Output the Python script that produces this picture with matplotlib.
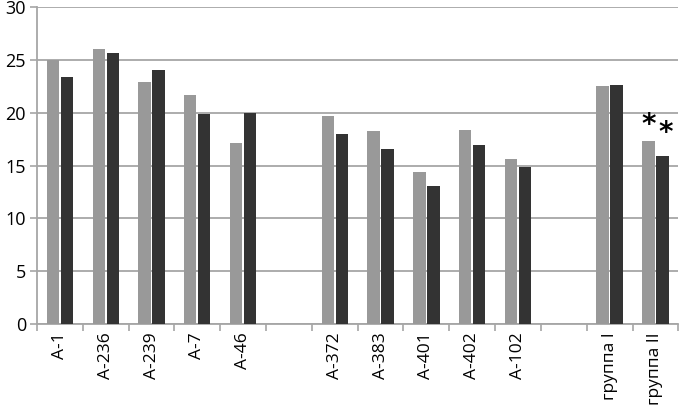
import matplotlib.pyplot as plt
import numpy as np

plt.rcParams["font.family"] = ["Open Sans", "DejaVu Sans"]

labels = ["А-1", "А-236", "А-239", "А-7", "А-46", "",
          "А-372", "А-383", "А-401", "А-402", "А-102", "",
          "группа I", "группа II"]
light = [25.0, 26.0, 22.9, 21.7, 17.1, np.nan,
         19.7, 18.3, 14.4, 18.4, 15.6, np.nan,
         22.5, 17.3]
dark = [23.4, 25.6, 24.0, 19.9, 20.0, np.nan,
        18.0, 16.6, 13.1, 16.9, 14.9, np.nan,
        22.6, 15.9]

grid_c = "#a6a6a6"
x = np.arange(len(labels))
w = 0.268
off = 0.153

fig = plt.figure(figsize=(6.79, 4.07), dpi=100)
ax = fig.add_axes([0.0545, 0.203, 0.9445, 0.7805])

ax.bar(x - off, light, w, color="#999999", zorder=3)
ax.bar(x + off, dark, w, color="#333333", zorder=3)

# significance marks over the last group
ax.text(x[-1] - off, light[-1] + 0.25, "*", ha="center", va="bottom",
        fontsize=20, fontweight="bold", family="DejaVu Sans", zorder=4)
ax.text(x[-1] + off + 0.08, dark[-1] + 0.85, "*", ha="center", va="bottom",
        fontsize=20, fontweight="bold", family="DejaVu Sans", zorder=4)

ax.set_ylim(0, 30)
ax.set_yticks(range(0, 31, 5))
ax.set_xlim(-0.5, len(labels) - 0.5)
ax.yaxis.grid(True, color=grid_c, linewidth=1.3, zorder=0)

ax.set_xticks(x)
ax.set_xticklabels(labels, rotation=90, fontsize=12.5)
ax.set_xticks(np.arange(-0.5, len(labels)), minor=True)
ax.tick_params(axis="x", which="major", length=0, pad=6)
ax.tick_params(axis="x", which="minor", length=5, color=grid_c, width=1.2)
ax.tick_params(axis="y", length=5, color=grid_c, width=1.2, labelsize=13, pad=3)

for s in ["top", "right"]:
    ax.spines[s].set_visible(False)
for s in ["left", "bottom"]:
    ax.spines[s].set_color(grid_c)
    ax.spines[s].set_linewidth(1.3)

fig.savefig("out.png", dpi=100)
